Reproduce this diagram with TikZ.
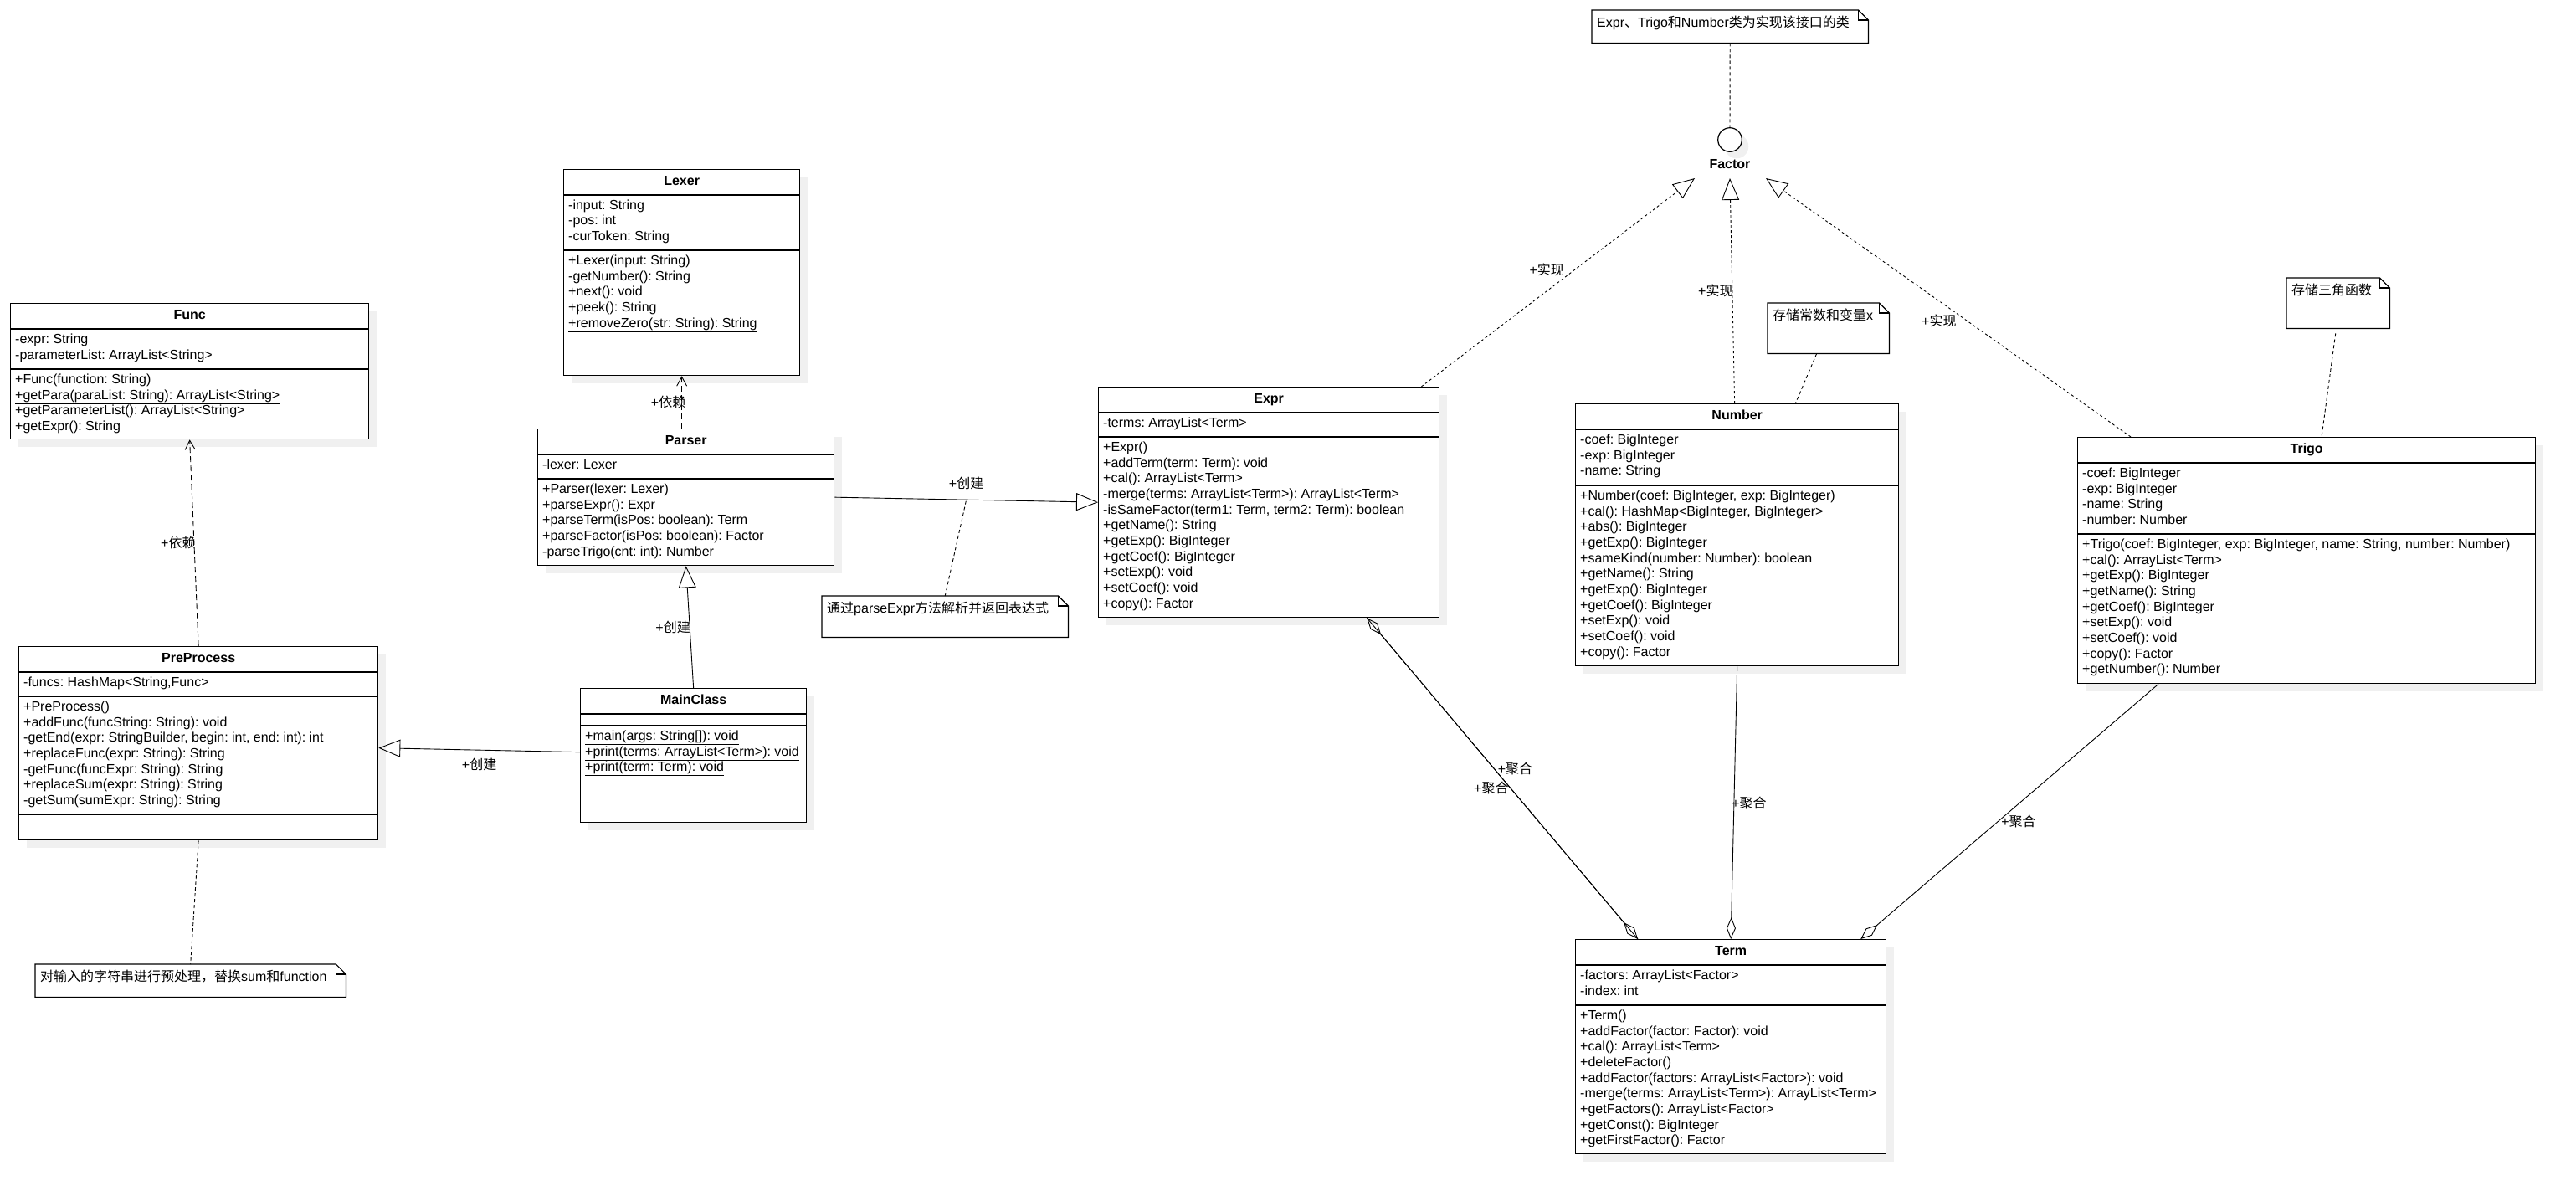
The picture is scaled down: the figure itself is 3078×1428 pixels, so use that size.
\documentclass[tikz,border=0pt]{standalone}
\usepackage{fontspec}
\setmainfont{Liberation Sans}
\newfontfamily\cjk{Noto Sans CJK SC}
\usetikzlibrary{arrows.meta,shadows}
\frenchspacing

% nota con angolo piegato
\newcommand{\notefold}[1]{%
  \draw[notefold, fill=white] (#1.north west) -- ([xshift=-12pt]#1.north east) -- ([yshift=-12pt]#1.north east)
       -- (#1.south east) -- (#1.south west) -- cycle;
  \draw[notefold] ([xshift=-12pt]#1.north east) |- ([yshift=-12pt]#1.north east);}

\begin{document}
\begin{tikzpicture}[
            x=1pt, y=-1pt,
            font=\fontsize{16}{18.7}\selectfont\frenchspacing,
            umlbox/.style={draw, line width=1.3pt, fill=white, anchor=north west, inner sep=0pt,
                drop shadow={shadow xshift=9pt, shadow yshift=-9pt, fill=black!6, opacity=1}},
            ctitle/.style={font=\fontsize{16}{18.7}\selectfont\bfseries, inner sep=0pt,
                text height=11.5pt, text depth=3.4pt},
            members/.style={anchor=north west, inner sep=0pt, align=left},
            compsep/.style={line width=1.3pt},
            notebox/.style={anchor=north west, inner sep=0pt},
            notefold/.style={line width=1.2pt},
            lbl/.style={inner sep=1pt},
            dep/.style={line width=0.9pt, dash pattern=on 7pt off 4pt, -{Straight Barb[length=11pt,width=12pt]}},
            gen/.style={line width=0.9pt, -{Triangle[open,length=26pt,width=21pt]}},
            real/.style={line width=0.9pt, dash pattern=on 3pt off 3pt, -{Triangle[open,length=26pt,width=21pt]}},
            aggrE/.style={line width=0.9pt, -{Diamond[open,length=26pt,width=11pt]}},
            aggrS/.style={line width=0.9pt, {Diamond[open,length=26pt,width=11pt]}-},
            notelink/.style={line width=0.9pt, dash pattern=on 4pt off 3pt}
        ]

            \useasboundingbox (0,0) rectangle (3078,1428);

            % --- Classe Func ---
            \node[umlbox, minimum width=428pt, minimum height=162pt] (func) at (12,362) {};
            \draw[compsep] ([yshift=-31pt]func.north west) -- ([yshift=-31pt]func.north east);
            \draw[compsep] ([yshift=-79pt]func.north west) -- ([yshift=-79pt]func.north east);
            \node[ctitle] (funcT) at ([yshift=-15.5pt]func.north) {Func};
            \node[members] (funcA) at ([xshift=6pt,yshift=-35pt]func.north west)
                {\strut -expr: String\\-parameterList: ArrayList<String>};
            \node[members] (funcM) at ([xshift=6pt,yshift=-83pt]func.north west)
                {\strut +Func(function: String)\\\underline{+getPara(paraList: String): ArrayList<String>}\\
                 +getParameterList(): ArrayList<String>\\+getExpr(): String};

            % --- Classe Lexer ---
            \node[umlbox, minimum width=282pt, minimum height=246pt] (lexer) at (673,202) {};
            \draw[compsep] ([yshift=-31pt]lexer.north west) -- ([yshift=-31pt]lexer.north east);
            \draw[compsep] ([yshift=-97pt]lexer.north west) -- ([yshift=-97pt]lexer.north east);
            \node[ctitle] (lexerT) at ([yshift=-15.5pt]lexer.north) {Lexer};
            \node[members] (lexerA) at ([xshift=6pt,yshift=-35pt]lexer.north west)
                {\strut -input: String\\-pos: int\\-curToken: String};
            \node[members] (lexerM) at ([xshift=6pt,yshift=-101pt]lexer.north west)
                {\strut +Lexer(input: String)\\-getNumber(): String\\+next(): void\\+peek(): String\\
                 \underline{+removeZero(str: String): String}};

            % --- Classe Parser ---
            \node[umlbox, minimum width=354pt, minimum height=163pt] (parser) at (642,512) {};
            \draw[compsep] ([yshift=-31pt]parser.north west) -- ([yshift=-31pt]parser.north east);
            \draw[compsep] ([yshift=-60pt]parser.north west) -- ([yshift=-60pt]parser.north east);
            \node[ctitle] (parserT) at ([yshift=-15.5pt]parser.north) {Parser};
            \node[members] (parserA) at ([xshift=6pt,yshift=-35pt]parser.north west)
                {\strut -lexer: Lexer};
            \node[members] (parserM) at ([xshift=6pt,yshift=-64pt]parser.north west)
                {\strut +Parser(lexer: Lexer)\\+parseExpr(): Expr\\+parseTerm(isPos: boolean): Term\\
                 +parseFactor(isPos: boolean): Factor\\-parseTrigo(cnt: int): Number};

            % --- Classe MainClass ---
            \node[umlbox, minimum width=270pt, minimum height=160pt] (mainclass) at (693,822) {};
            \draw[compsep] ([yshift=-31pt]mainclass.north west) -- ([yshift=-31pt]mainclass.north east);
            \draw[compsep] ([yshift=-45pt]mainclass.north west) -- ([yshift=-45pt]mainclass.north east);
            \node[ctitle] (mainclassT) at ([yshift=-15.5pt]mainclass.north) {MainClass};
            \node[members] (mainclassM) at ([xshift=6pt,yshift=-49pt]mainclass.north west)
                {\strut\underline{+main(args: String[]): void}\\\underline{+print(terms: ArrayList<Term>): void}\\
                 \underline{+print(term: Term): void}};

            % --- Classe PreProcess ---
            \node[umlbox, minimum width=429pt, minimum height=231pt] (preprocess) at (22,772) {};
            \draw[compsep] ([yshift=-31pt]preprocess.north west) -- ([yshift=-31pt]preprocess.north east);
            \draw[compsep] ([yshift=-60pt]preprocess.north west) -- ([yshift=-60pt]preprocess.north east);
            \draw[compsep] ([yshift=-201pt]preprocess.north west) -- ([yshift=-201pt]preprocess.north east);
            \node[ctitle] (preprocessT) at ([yshift=-15.5pt]preprocess.north) {PreProcess};
            \node[members] (preprocessA) at ([xshift=6pt,yshift=-35pt]preprocess.north west)
                {\strut -funcs: HashMap<String,Func>};
            \node[members] (preprocessM) at ([xshift=6pt,yshift=-64pt]preprocess.north west)
                {\strut +PreProcess()\\+addFunc(funcString: String): void\\
                 -getEnd(expr: StringBuilder, begin: int, end: int): int\\+replaceFunc(expr: String): String\\
                 -getFunc(funcExpr: String): String\\+replaceSum(expr: String): String\\-getSum(sumExpr: String): String};

            % --- Classe Expr ---
            \node[umlbox, minimum width=407pt, minimum height=275pt] (expr) at (1312,462) {};
            \draw[compsep] ([yshift=-31pt]expr.north west) -- ([yshift=-31pt]expr.north east);
            \draw[compsep] ([yshift=-60pt]expr.north west) -- ([yshift=-60pt]expr.north east);
            \node[ctitle] (exprT) at ([yshift=-15.5pt]expr.north) {Expr};
            \node[members] (exprA) at ([xshift=6pt,yshift=-35pt]expr.north west)
                {\strut -terms: ArrayList<Term>};
            \node[members] (exprM) at ([xshift=6pt,yshift=-64pt]expr.north west)
                {\strut +Expr()\\+addTerm(term: Term): void\\+cal(): ArrayList<Term>\\
                 -merge(terms: ArrayList<Term>): ArrayList<Term>\\-isSameFactor(term1: Term, term2: Term): boolean\\
                 +getName(): String\\+getExp(): BigInteger\\+getCoef(): BigInteger\\+setExp(): void\\
                 +setCoef(): void\\+copy(): Factor};

            % --- Classe Number ---
            \node[umlbox, minimum width=386pt, minimum height=313pt] (number) at (1882,482) {};
            \draw[compsep] ([yshift=-31pt]number.north west) -- ([yshift=-31pt]number.north east);
            \draw[compsep] ([yshift=-98pt]number.north west) -- ([yshift=-98pt]number.north east);
            \node[ctitle] (numberT) at ([yshift=-15.5pt]number.north) {Number};
            \node[members] (numberA) at ([xshift=6pt,yshift=-35pt]number.north west)
                {\strut -coef: BigInteger\\-exp: BigInteger\\-name: String};
            \node[members] (numberM) at ([xshift=6pt,yshift=-102pt]number.north west)
                {\strut +Number(coef: BigInteger, exp: BigInteger)\\+cal(): HashMap<BigInteger, BigInteger>\\
                 +abs(): BigInteger\\+getExp(): BigInteger\\+sameKind(number: Number): boolean\\
                 +getName(): String\\+getExp(): BigInteger\\+getCoef(): BigInteger\\+setExp(): void\\
                 +setCoef(): void\\+copy(): Factor};

            % --- Classe Trigo ---
            \node[umlbox, minimum width=547pt, minimum height=294pt] (trigo) at (2482,522) {};
            \draw[compsep] ([yshift=-31pt]trigo.north west) -- ([yshift=-31pt]trigo.north east);
            \draw[compsep] ([yshift=-116pt]trigo.north west) -- ([yshift=-116pt]trigo.north east);
            \node[ctitle] (trigoT) at ([yshift=-15.5pt]trigo.north) {Trigo};
            \node[members] (trigoA) at ([xshift=6pt,yshift=-35pt]trigo.north west)
                {\strut -coef: BigInteger\\-exp: BigInteger\\-name: String\\-number: Number};
            \node[members] (trigoM) at ([xshift=6pt,yshift=-120pt]trigo.north west)
                {\strut +Trigo(coef: BigInteger, exp: BigInteger, name: String, number: Number)\\
                 +cal(): ArrayList<Term>\\+getExp(): BigInteger\\+getName(): String\\+getCoef(): BigInteger\\
                 +setExp(): void\\+setCoef(): void\\+copy(): Factor\\+getNumber(): Number};

            % --- Classe Term ---
            \node[umlbox, minimum width=371pt, minimum height=256pt] (term) at (1882,1122) {};
            \draw[compsep] ([yshift=-31pt]term.north west) -- ([yshift=-31pt]term.north east);
            \draw[compsep] ([yshift=-79pt]term.north west) -- ([yshift=-79pt]term.north east);
            \node[ctitle] (termT) at ([yshift=-15.5pt]term.north) {Term};
            \node[members] (termA) at ([xshift=6pt,yshift=-35pt]term.north west)
                {\strut -factors: ArrayList<Factor>\\-index: int};
            \node[members] (termM) at ([xshift=6pt,yshift=-83pt]term.north west)
                {\strut +Term()\\+addFactor(factor: Factor): void\\+cal(): ArrayList<Term>\\+deleteFactor()\\
                 +addFactor(factors: ArrayList<Factor>): void\\-merge(terms: ArrayList<Term>): ArrayList<Term>\\
                 +getFactors(): ArrayList<Factor>\\+getConst(): BigInteger\\+getFirstFactor(): Factor};

            % --- Interfaccia Factor (lollipop) ---
            \node[circle, draw, line width=1.2pt, fill=white, minimum size=28.6pt, inner sep=0pt,
                drop shadow={shadow xshift=8pt, shadow yshift=-8pt, fill=black!6, opacity=1}] (factor) at (2067,167) {};
            \node[ctitle] (factorL) at (2067,197) {Factor};
            \coordinate (fL) at (2025,213);
            \coordinate (fM) at (2067,213);
            \coordinate (fR) at (2110,213);

            % --- Note ---
            \node[notebox, minimum width=330pt, minimum height=39pt] (nFactor) at (1902,12) {};
            \notefold{nFactor}
            \node[members] (nFactorT) at ([xshift=6pt,yshift=-6.5pt]nFactor.north west)
                {\strut Expr{\cjk 、}Trigo{\cjk 和}Number{\cjk 类为实现该接口的类}};

            \node[notebox, minimum width=145pt, minimum height=60pt] (nNumber) at (2112,362) {};
            \notefold{nNumber}
            \node[members] (nNumberT) at ([xshift=6pt,yshift=-6.5pt]nNumber.north west)
                {\strut {\cjk 存储常数和变量}x};

            \node[notebox, minimum width=123pt, minimum height=60pt] (nTrigo) at (2732,332) {};
            \notefold{nTrigo}
            \node[members] (nTrigoT) at ([xshift=6pt,yshift=-6.5pt]nTrigo.north west)
                {\strut {\cjk 存储三角函数}};

            \node[notebox, minimum width=294pt, minimum height=49pt] (nParse) at (982,712) {};
            \notefold{nParse}
            \node[members] (nParseT) at ([xshift=6pt,yshift=-6.5pt]nParse.north west)
                {\strut {\cjk 通过}parseExpr{\cjk 方法解析并返回表达式}};

            \node[notebox, minimum width=371pt, minimum height=39pt] (nPre) at (42,1152) {};
            \notefold{nPre}
            \node[members] (nPreT) at ([xshift=6pt,yshift=-6.5pt]nPre.north west)
                {\strut {\cjk 对输入的字符串进行预处理，替换}sum{\cjk 和}function};

            % --- Dipendenze ---
            \draw[dep] (lexer.south |- parser.north) -- node[lbl, xshift=-16pt] (lblDepLexer) {+{\cjk 依赖}} (lexer.south);
            \draw[dep] (preprocess.north) -- node[lbl, xshift=-19pt] (lblDepFunc) {+{\cjk 依赖}} (func.south);

            % --- Generalizzazioni ---
            \draw[gen] (mainclass.north) -- node[lbl, xshift=-20pt] (lblGenParser) {+{\cjk 创建}} (parser.south);
            \draw[gen] ([yshift=4pt]mainclass.west) -- node[lbl, yshift=-17pt] (lblGenPre) {+{\cjk 创建}}
                ([yshift=-5.5pt]preprocess.east);
            \draw[gen] (parser.east) -- node[lbl, yshift=19.5pt] (lblGenExpr) {+{\cjk 创建}}
                coordinate[pos=0.5] (mExpr) (expr.west);

            % --- Realizzazioni di Factor ---
            \draw[real] ([xshift=-22pt]expr.north east) -- node[lbl, pos=0.56, xshift=-33pt] (lblRealExpr) {+{\cjk 实现}} (fL);
            \draw[real] ([xshift=-3pt]number.north) -- node[lbl, xshift=-20pt] (lblRealNumber) {+{\cjk 实现}} (fM);
            \draw[real] ([xshift=64pt]trigo.north west) -- node[lbl, pos=0.45, xshift=-33pt] (lblRealTrigo) {+{\cjk 实现}} (fR);

            % --- Aggregazioni verso Term ---
            \draw[aggrS] ([xshift=-87pt]expr.south east) -- node[lbl, pos=0.47, xshift=25pt] (lblAggExprA) {+{\cjk 聚合}}
                ([xshift=75pt]term.north west);
            \draw[aggrE] ([xshift=-87pt]expr.south east) -- node[lbl, pos=0.53, xshift=-23pt] (lblAggExprB) {+{\cjk 聚合}}
                ([xshift=75pt]term.north west);
            \draw[aggrE] (number.south) -- node[lbl, xshift=18pt] (lblAggNumber) {+{\cjk 聚合}} (term.north);
            \draw[aggrE] ([xshift=97pt]trigo.south west) -- node[lbl, pos=0.54, xshift=25pt] (lblAggTrigo) {+{\cjk 聚合}}
                ([xshift=-31pt]term.north east);

            % --- Collegamenti delle note ---
            \draw[notelink] (nFactor.south) -- (factor.north);
            \draw[notelink] ([xshift=-14pt]nNumber.south) -- ([xshift=-124pt]number.north east);
            \draw[notelink] ([xshift=-3pt,yshift=-6pt]nTrigo.south) -- ([xshift=292pt]trigo.north west);
            \draw[notelink] (preprocess.south) -- (nPre.north);
            \draw[notelink] (nParse.north) -- (mExpr);

    \end{tikzpicture}
\end{document}
